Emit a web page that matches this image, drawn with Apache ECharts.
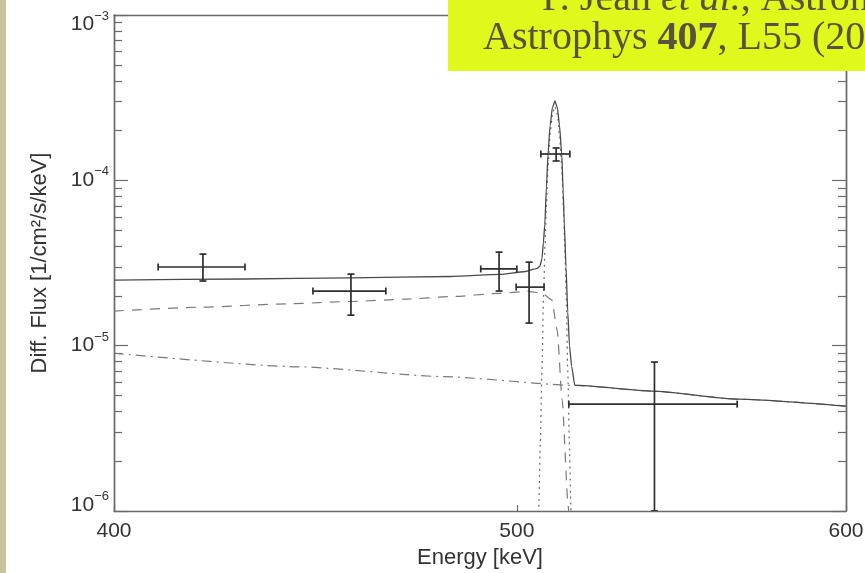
<!DOCTYPE html>
<html>
<head>
<meta charset="utf-8">
<script src="https://cdn.jsdelivr.net/npm/echarts@6/dist/echarts.min.js"></script>
<style>
  html, body { margin: 0; padding: 0; background: #ffffff; }
  #chart { width: 865px; height: 573px; }
</style>
</head>
<body>
<div id="chart"></div>
<script>
// Axis ticks: energy (keV) and flux decades
const energyTicks = [400, 500, 600];
const fluxDecades = [1e-6, 1e-5, 1e-4, 1e-3];
const fluxMinorSteps = [2, 3, 4, 5, 6, 7, 8, 9];

// Measured spectrum: bin centre, bin edges, flux and flux error range
const binEnergy = [420.2, 456.1, 495.1, 503.4, 511.0, 539.6];
const binLow    = [409.9, 446.6, 490.1, 499.8, 506.7, 514.6];
const binHigh   = [430.1, 465.0, 500.0, 507.6, 514.9, 564.9];
const binFlux   = [2.99e-5, 2.14e-5, 2.91e-5, 2.26e-5, 1.443e-4, 4.43e-6];
const fluxLow   = [2.46e-5, 1.53e-5, 2.14e-5, 1.37e-5, 1.309e-4, 1.0e-6];
const fluxHigh  = [3.58e-5, 2.71e-5, 3.68e-5, 3.20e-5, 1.569e-4, 7.96e-6];

// Model components [energy keV, flux]
const totalModel = [
  [400, 2.49e-5], [430, 2.53e-5], [456, 2.57e-5], [482, 2.62e-5], [495.4, 2.70e-5],
  [502, 2.80e-5], [505.5, 2.92e-5], [506.4, 3.02e-5], [507.0, 3.35e-5], [507.4, 4.2e-5],
  [507.8, 5.4e-5], [508.25, 9.0e-5], [508.7, 1.43e-4], [509.3, 2.15e-4], [509.95, 2.75e-4],
  [510.65, 3.02e-4], [511.35, 2.75e-4], [511.95, 2.15e-4], [512.6, 1.43e-4], [513.0, 8.5e-5],
  [513.3, 5.6e-5], [513.8, 3.0e-5], [514.3, 1.6e-5], [514.8, 1.0e-5], [515.4, 7.5e-6],
  [516.3, 5.78e-6], [539.1, 5.31e-6], [564.9, 4.75e-6], [600, 4.31e-6]
];
const positroniumContinuum = [
  [400, 1.62e-5], [420, 1.71e-5], [440, 1.79e-5], [456, 1.85e-5], [470, 1.91e-5],
  [482, 1.98e-5], [495, 2.07e-5], [503, 2.13e-5], [507, 2.08e-5], [509.8, 1.89e-5],
  [511.3, 1.24e-5], [512.7, 4.7e-6], [514.4, 1.08e-6], [515, 7e-7]
];
const powerLawContinuum = [
  [400, 9.0e-6], [443, 7.45e-6], [480, 6.5e-6], [516.3, 5.75e-6],
  [539.1, 5.31e-6], [564.9, 4.75e-6], [600, 4.31e-6]
];
const annihilationLine = [
  [505.75, 5e-7], [506.1, 1.05e-6], [506.55, 2.6e-6], [507.0, 7.1e-6], [507.45, 2.0e-5],
  [507.85, 4.0e-5], [508.25, 7.0e-5], [508.7, 1.2e-4], [509.3, 1.9e-4], [509.95, 2.5e-4],
  [510.65, 2.8e-4], [511.35, 2.5e-4], [511.95, 1.9e-4], [512.6, 1.2e-4], [513.05, 7.0e-5],
  [513.45, 4.0e-5], [513.85, 2.0e-5], [514.3, 7.1e-6], [514.75, 2.6e-6], [515.2, 1.05e-6],
  [515.55, 5e-7]
];

const fluxMinorTicks = [];
fluxDecades.slice(0, -1).forEach(d => fluxMinorSteps.forEach(m => fluxMinorTicks.push(d * m)));

const axisColor = '#6a6a6a';
const textColor = '#333333';
const sansFont = 'Liberation Sans, Arial, Helvetica, sans-serif';

function fluxLabel(v) {
  const p = Math.round(Math.log10(v));
  const exp = '\u2212' + Math.abs(p);
  if (p === -6) return '{bMin|10}{sMin|' + exp + '}';
  if (p === -3) return '{bMax|10}{sMax|' + exp + '}';
  return '{b|10}{s|' + exp + '}';
}

const base = { fontSize: 21, lineHeight: 22, color: textColor, fontFamily: sansFont, verticalAlign: 'middle' };
const sup = { fontSize: 13, lineHeight: 13, color: textColor, fontFamily: sansFont, verticalAlign: 'middle' };

function energyAxis(position, withLabels) {
  return {
    type: 'log', min: 400, max: 600, position: position,
    axisLine: { show: true, lineStyle: { color: axisColor, width: 1.4 } },
    axisTick: { show: true, inside: true, length: 6, customValues: energyTicks,
                lineStyle: { color: axisColor, width: 1.2 } },
    axisLabel: withLabels
      ? { show: true, customValues: energyTicks, margin: 10, color: textColor,
          fontSize: 21, fontFamily: sansFont }
      : { show: false },
    splitLine: { show: false },
    name: withLabels ? 'Energy [keV]' : '',
    nameLocation: 'middle', nameGap: 36,
    nameTextStyle: { color: textColor, fontSize: 22, fontFamily: sansFont }
  };
}

function fluxAxis(position, ticks, len, withLabels) {
  return {
    type: 'log', min: 1e-6, max: 1e-3, position: position, offset: 0,
    axisLine: { show: true, lineStyle: { color: axisColor, width: 1.4 } },
    axisTick: { show: true, inside: true, length: len, customValues: ticks,
                lineStyle: { color: axisColor, width: 1.2 } },
    axisLabel: withLabels
      ? { show: true, customValues: fluxDecades, margin: 5, formatter: fluxLabel,
          rich: {
            b: base, s: Object.assign({}, sup, { padding: [0, 0, 17, 0] }),
            bMin: Object.assign({}, base, { padding: [0, 0, 12, 0] }),
            sMin: Object.assign({}, sup, { padding: [0, 0, 29, 0] }),
            bMax: Object.assign({}, base, { padding: [18, 0, 0, 0] }),
            sMax: Object.assign({}, sup, { padding: [3, 0, 0, 0] })
          } }
      : { show: false },
    splitLine: { show: false },
    name: withLabels ? 'Diff. Flux [1/cm\u00b2/s/keV]' : '',
    nameLocation: 'middle', nameGap: 63,
    nameTextStyle: { color: textColor, fontSize: 22, fontFamily: sansFont }
  };
}

function modelLine(name, data, color, type, width) {
  return {
    name: name, type: 'line', data: data, xAxisIndex: 0, yAxisIndex: 0,
    showSymbol: false, smooth: 0.2, smoothMonotone: 'x', clip: true, silent: true,
    lineStyle: { color: color, width: width, type: type }, z: 2
  };
}

const chart = echarts.init(document.getElementById('chart'), null, { renderer: 'canvas' });

chart.setOption({
  backgroundColor: '#ffffff',
  animation: false,
  grid: { left: 114, right: 19, top: 15, bottom: 62, outerBoundsMode: 'none' },
  xAxis: [energyAxis('bottom', true), energyAxis('top', false)],
  yAxis: [
    fluxAxis('left', fluxDecades, 14, true),
    fluxAxis('left', fluxMinorTicks, 8, false),
    fluxAxis('right', fluxDecades, 14, false),
    fluxAxis('right', fluxMinorTicks, 8, false)
  ],
  graphic: [
    { type: 'rect', left: 0, top: 0, shape: { width: 6, height: 573 },
      style: { fill: '#c6c49c' }, z: 10 },
    { type: 'rect', left: 448, top: 0, shape: { width: 417, height: 71 },
      style: { fill: '#e1f81c' }, z: 10 },
    { type: 'text', x: 542, y: -0.5, z: 11,
      style: { text: 'P. Jean {i|et al.}, Astron.', fill: '#5a5240', fontSize: 40,
               fontFamily: 'Liberation Serif, Times New Roman, serif', verticalAlign: 'middle',
               rich: { i: { fontStyle: 'italic', fontSize: 40, fill: '#5a5240',
                            fontFamily: 'Liberation Serif, Times New Roman, serif' } } } },
    { type: 'text', x: 483, y: 38.5, z: 11,
      style: { text: 'Astrophys {b|407}, L55 (2003)', fill: '#5a5240', fontSize: 40,
               fontFamily: 'Liberation Serif, Times New Roman, serif', verticalAlign: 'middle',
               rich: { b: { fontWeight: 'bold', fontSize: 40, fill: '#5a5240',
                            fontFamily: 'Liberation Serif, Times New Roman, serif' } } } }
  ],
  series: [
    modelLine('Power law', powerLawContinuum, '#7a7a7a', [10, 5, 2, 5], 1.2),
    modelLine('Positronium continuum', positroniumContinuum, '#7a7a7a', [10, 8], 1.2),
    modelLine('511 keV line', annihilationLine, '#6a6a6a', [2, 4], 1.2),
    modelLine('Total', totalModel, '#4a4a4a', 'solid', 1.3),
    {
      name: 'SPI', type: 'custom', xAxisIndex: 0, yAxisIndex: 0, clip: true, z: 5,
      data: binEnergy.map((e, i) => [e, binFlux[i], binLow[i], binHigh[i], fluxLow[i], fluxHigh[i]]),
      encode: { x: 0, y: 1 },
      renderItem: function (params, api) {
        const y = api.value(1), x = api.value(0);
        const l = api.coord([api.value(2), y]);
        const r = api.coord([api.value(3), y]);
        const b = api.coord([x, api.value(4)]);
        const t = api.coord([x, api.value(5)]);
        const cap = 3.5;
        const style = { stroke: '#2e2e2e', lineWidth: 1.7 };
        const seg = (x1, y1, x2, y2) => ({ type: 'line', shape: { x1, y1, x2, y2 }, style });
        return {
          type: 'group',
          children: [
            seg(l[0], l[1], r[0], r[1]),
            seg(l[0], l[1] - cap, l[0], l[1] + cap),
            seg(r[0], r[1] - cap, r[0], r[1] + cap),
            seg(b[0], b[1], t[0], t[1]),
            seg(b[0] - cap, b[1], b[0] + cap, b[1]),
            seg(t[0] - cap, t[1], t[0] + cap, t[1])
          ]
        };
      }
    }
  ]
});
</script>
</body>
</html>
